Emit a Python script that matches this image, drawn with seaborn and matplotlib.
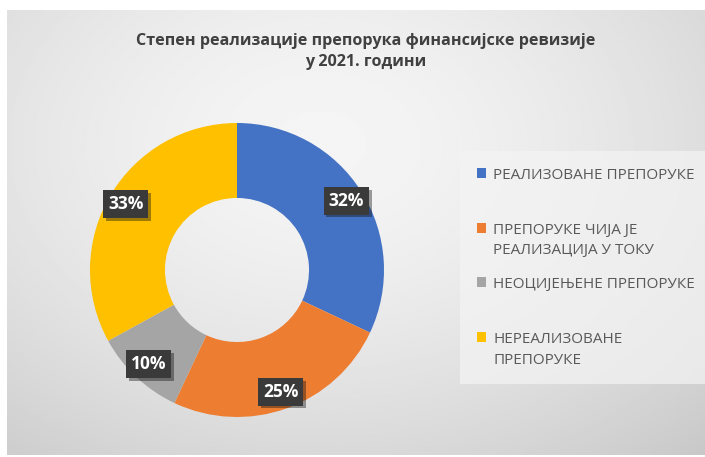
import numpy as np
import matplotlib
matplotlib.use('Agg')
import matplotlib.pyplot as plt
import matplotlib.patheffects as pe
import seaborn as sns

# data
categories = ['РЕАЛИЗОВАНЕ ПРЕПОРУКЕ',
              'ПРЕПОРУКЕ ЧИЈА ЈЕ\nРЕАЛИЗАЦИЈА У ТОКУ',
              'НЕОЦИЈЕЊЕНЕ ПРЕПОРУКЕ',
              'НЕРЕАЛИЗОВАНЕ\nПРЕПОРУКЕ']
shares = [32, 25, 10, 33]
colors = ['#4472C4', '#ED7D31', '#A5A5A5', '#FFC000']
title = 'Степен реализације препорука финансијске ревизије\nу 2021. години'

sns.set_theme(style='white')
plt.rcParams['font.family'] = ['Open Sans', 'DejaVu Sans']

fig = plt.figure(figsize=(7.05, 4.57), dpi=100)
fig.patch.set_facecolor('white')

# background panel with soft radial gradient
bg = fig.add_axes([7 / 705, 2 / 457, 1 - 7 / 705, 1 - 12 / 457])
yy, xx = np.mgrid[0:1:200j, 0:1:300j]
d = np.sqrt(((xx - 0.45) / 0.75) ** 2 + ((yy - 0.3) / 0.85) ** 2)
g = np.clip(0.96 - 0.15 * d ** 1.6, 0.78, 1)
bg.imshow(g, cmap='gray', vmin=0, vmax=1, aspect='auto', extent=[0, 1, 0, 1], origin='upper')
bg.set_axis_off()

fig.text(0.518, 0.887, title, ha='center', va='center', fontsize=11.6, fontweight='bold',
         color='#404040', linespacing=1.4)

ax = fig.add_axes([(237 - 147) / 705, (457 - 270 - 147) / 457, 294 / 705, 294 / 457])
wedges, texts, autotexts = ax.pie(shares, colors=colors, startangle=90, counterclock=False,
                                  autopct='%1.0f%%', pctdistance=0.88,
                                  wedgeprops=dict(width=0.51, linewidth=0))
ax.set_xlim(-1, 1)
ax.set_ylim(-1, 1)
for t in autotexts:
    t.set_color('white')
    t.set_fontsize(12.5)
    t.set_fontweight('bold')
    t.set_bbox(dict(boxstyle='square,pad=0.28', facecolor='#3a3a3a', edgecolor='none'))
    t.get_bbox_patch().set_path_effects([pe.SimplePatchShadow(offset=(2, -2), alpha=0.4),
                                         pe.Normal()])

# pad single-line labels so every entry takes two lines
labels = [c if '\n' in c else c + '\n ' for c in categories]
leg = fig.legend(wedges, labels, loc='upper left', bbox_to_anchor=(465 / 705, 1 - 156 / 457),
                 frameon=True, fontsize=11, handlelength=0.6, handleheight=0.6,
                 handletextpad=0.45, labelspacing=1.25, borderpad=0.8, borderaxespad=0,
                 labelcolor='#595959')
for t in leg.get_texts():
    t.set_linespacing(1.5)
leg.get_frame().set_facecolor('#f4f4f4')
leg.get_frame().set_alpha(0.7)
leg.get_frame().set_edgecolor('none')
leg.get_frame().set_boxstyle('square')
for col in leg._legend_handle_box.get_children():
    for item in col.get_children():
        item.align = 'top'

fig.savefig('out.png', dpi=100)
